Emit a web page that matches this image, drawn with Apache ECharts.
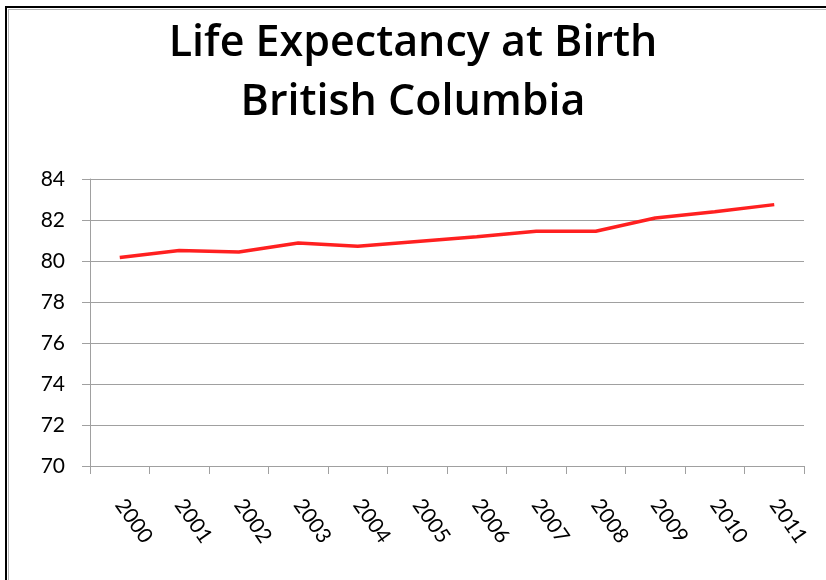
<!DOCTYPE html>
<html>
<head>
<meta charset="utf-8">
<script src="https://cdn.jsdelivr.net/npm/echarts@6/dist/echarts.min.js"></script>
<style>
	html,body{margin:0;padding:0;background:#fff;}
	.frame{position:absolute;left:5px;top:6px;width:900px;height:700px;border:2px solid #000;
		box-shadow:inset 1px 1px 0 #fff,inset 2px 2px 0 #b4b4b4;}
	#main{position:absolute;left:0;top:0;width:826px;height:580px;}
</style>
</head>
<body>
<div class="frame"></div>
<div id="main"></div>
<script>
let years=["2000","2001","2002","2003","2004","2005","2006","2007","2008","2009","2010","2011"];
let lifeExp=[80.17,80.51,80.44,80.88,80.72,80.95,81.18,81.45,81.45,82.1,82.4,82.75];
let yTicks=[70,84,2];

var myChart=echarts.init(document.querySelector("#main"));
option={
	textStyle:{
		fontFamily:"Lato",
		color:"#000"
	},
	title:{
		text:"Life Expectancy at Birth\nBritish Columbia",
		left:"center",
		top:9,
		textStyle:{
			fontFamily:"Open Sans",
			fontSize:43,
			fontWeight:600,
			lineHeight:59,
			color:"#000"
		}
	},
	grid:{
		left:90,
		right:22,
		top:179,
		bottom:114
	},
	xAxis:{
		type:"category",
		data:years,
		boundaryGap:true,
		axisLine:{lineStyle:{color:"#a0a0a0",width:1}},
		axisTick:{show:true,length:8,lineStyle:{color:"#a0a0a0"}},
		axisLabel:{
			rotate:-55,
			margin:35,
			fontSize:21,
			color:"#000",
			fontFamily:"Lato"
		}
	},
	yAxis:{
		type:"value",
		min:yTicks[0],
		max:yTicks[1],
		interval:yTicks[2],
		axisLine:{show:true,lineStyle:{color:"#a0a0a0",width:1}},
		axisTick:{show:true,length:8,lineStyle:{color:"#a0a0a0"}},
		splitLine:{lineStyle:{color:"#a0a0a0",width:1}},
		axisLabel:{
			margin:25,
			fontSize:21,
			color:"#000",
			fontFamily:"Lato"
		}
	},
	series:[{
		type:"line",
		data:lifeExp,
		symbol:"none",
		lineStyle:{color:"#ff2020",width:3.5},
		animation:false
	}],
	animation:false
};
myChart.setOption(option);
</script>
</body>
</html>
